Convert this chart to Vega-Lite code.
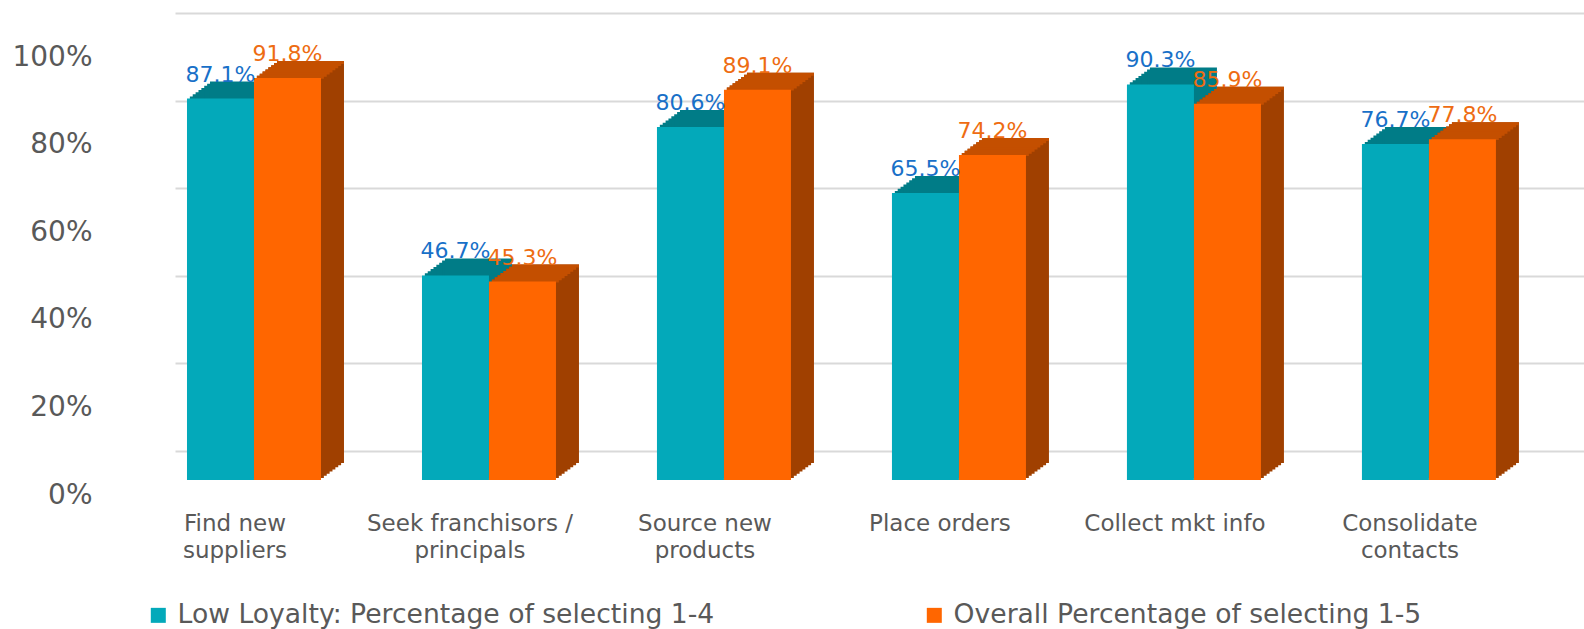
{
  "$schema": "https://vega.github.io/schema/vega-lite/v6.json",
  "width": 1409,
  "height": 438,
  "autosize": {"type": "none"},
  "padding": {"left": 175, "top": 13, "right": 0, "bottom": 178},
  "background": "white",
  "config": {"view": {"stroke": null}, "font": "DejaVu Sans"},
  "data": {
    "values": [
      {"category": "Find new suppliers", "series": "Low Loyalty: Percentage of selecting 1-4", "value": 0.871},
      {"category": "Find new suppliers", "series": "Overall Percentage of selecting 1-5", "value": 0.918},
      {"category": "Seek franchisors / principals", "series": "Low Loyalty: Percentage of selecting 1-4", "value": 0.467},
      {"category": "Seek franchisors / principals", "series": "Overall Percentage of selecting 1-5", "value": 0.453},
      {"category": "Source new products", "series": "Low Loyalty: Percentage of selecting 1-4", "value": 0.806},
      {"category": "Source new products", "series": "Overall Percentage of selecting 1-5", "value": 0.891},
      {"category": "Place orders", "series": "Low Loyalty: Percentage of selecting 1-4", "value": 0.655},
      {"category": "Place orders", "series": "Overall Percentage of selecting 1-5", "value": 0.742},
      {"category": "Collect mkt info", "series": "Low Loyalty: Percentage of selecting 1-4", "value": 0.903},
      {"category": "Collect mkt info", "series": "Overall Percentage of selecting 1-5", "value": 0.859},
      {"category": "Consolidate contacts", "series": "Low Loyalty: Percentage of selecting 1-4", "value": 0.767},
      {"category": "Consolidate contacts", "series": "Overall Percentage of selecting 1-5", "value": 0.778}
    ]
  },
  "encoding": {
    "x": {
      "field": "category", "type": "nominal", "sort": null,
      "scale": {"paddingInner": 0.43, "paddingOuter": 0.213, "align": 0.12},
      "axis": {
        "title": null, "domain": false, "ticks": false, "tickSize": 0, "grid": false,
        "labelAngle": 0, "labelPadding": 79, "labelOffset": -19, "labelFontSize": 23,
        "labelColor": "#595959", "labelLineHeight": 27.7, "labelBaseline": "alphabetic", "labelLimit": 400,
        "labelExpr": "datum.value == 'Find new suppliers' ? ['Find new','suppliers'] : datum.value == 'Seek franchisors / principals' ? ['Seek franchisors /','principals'] : datum.value == 'Source new products' ? ['Source new','products'] : datum.value == 'Consolidate contacts' ? ['Consolidate','contacts'] : datum.value"
      }
    },
    "y": {
      "field": "value", "type": "quantitative",
      "scale": {"domain": [0, 1], "nice": false},
      "axis": {
        "title": null, "values": [0, 0.2, 0.4, 0.6, 0.8, 1], "format": ".0%",
        "domain": false, "ticks": false, "tickSize": 0, "labelPadding": 83, "labelOffset": 44,
        "labelFontSize": 28, "labelColor": "#595959", "grid": true, "gridColor": "#D9D9D9", "gridWidth": 2,
        "labelOverlap": false, "labelFlush": false
      }
    }
  },
  "layer": [
    {"transform": [{"filter": {"field": "series", "equal": "Low Loyalty: Percentage of selecting 1-4"}}], "mark": {"type": "bar", "width": 67, "color": "#007C87", "xOffset": -30.625, "yOffset": 26.875, "y2Offset": 26.875}},
    {"transform": [{"filter": {"field": "series", "equal": "Low Loyalty: Percentage of selecting 1-4"}}], "mark": {"type": "bar", "width": 67, "color": "#007C87", "xOffset": -27.75, "yOffset": 24.75, "y2Offset": 24.75}},
    {"transform": [{"filter": {"field": "series", "equal": "Low Loyalty: Percentage of selecting 1-4"}}], "mark": {"type": "bar", "width": 67, "color": "#007C87", "xOffset": -24.875, "yOffset": 22.625, "y2Offset": 22.625}},
    {"transform": [{"filter": {"field": "series", "equal": "Low Loyalty: Percentage of selecting 1-4"}}], "mark": {"type": "bar", "width": 67, "color": "#007C87", "xOffset": -22, "yOffset": 20.5, "y2Offset": 20.5}},
    {"transform": [{"filter": {"field": "series", "equal": "Low Loyalty: Percentage of selecting 1-4"}}], "mark": {"type": "bar", "width": 67, "color": "#007C87", "xOffset": -19.125, "yOffset": 18.375, "y2Offset": 18.375}},
    {"transform": [{"filter": {"field": "series", "equal": "Low Loyalty: Percentage of selecting 1-4"}}], "mark": {"type": "bar", "width": 67, "color": "#007C87", "xOffset": -16.25, "yOffset": 16.25, "y2Offset": 16.25}},
    {"transform": [{"filter": {"field": "series", "equal": "Low Loyalty: Percentage of selecting 1-4"}}], "mark": {"type": "bar", "width": 67, "color": "#007C87", "xOffset": -13.375, "yOffset": 14.125, "y2Offset": 14.125}},
    {"transform": [{"filter": {"field": "series", "equal": "Low Loyalty: Percentage of selecting 1-4"}}], "mark": {"type": "bar", "width": 67, "color": "#007C87", "xOffset": -10.5, "yOffset": 12, "y2Offset": 12}},
    {
      "transform": [{"filter": {"field": "series", "equal": "Low Loyalty: Percentage of selecting 1-4"}}],
      "mark": {"type": "bar", "width": 67, "xOffset": -33.5, "yOffset": 29, "y2Offset": 29},
      "encoding": {
        "color": {
          "field": "series", "type": "nominal",
          "scale": {"domain": ["Low Loyalty: Percentage of selecting 1-4", "Overall Percentage of selecting 1-5"], "range": ["#03A9BA", "#FF6600"]},
          "legend": {"title": null, "orient": "none", "legendX": -30, "legendY": 589, "direction": "horizontal", "symbolType": "square", "symbolSize": 225, "symbolStrokeWidth": 0, "labelFontSize": 26.6, "labelColor": "#595959", "labelLimit": 800, "labelOffset": 6, "columnPadding": 206}
        }
      }
    },
    {"transform": [{"filter": {"field": "series", "equal": "Overall Percentage of selecting 1-5"}}], "mark": {"type": "bar", "width": 67, "color": "#A04000", "xOffset": 36.375, "yOffset": 26.875, "y2Offset": 26.875}},
    {"transform": [{"filter": {"field": "series", "equal": "Overall Percentage of selecting 1-5"}}], "mark": {"type": "bar", "width": 67, "color": "#A04000", "xOffset": 39.25, "yOffset": 24.75, "y2Offset": 24.75}},
    {"transform": [{"filter": {"field": "series", "equal": "Overall Percentage of selecting 1-5"}}], "mark": {"type": "bar", "width": 67, "color": "#A04000", "xOffset": 42.125, "yOffset": 22.625, "y2Offset": 22.625}},
    {"transform": [{"filter": {"field": "series", "equal": "Overall Percentage of selecting 1-5"}}], "mark": {"type": "bar", "width": 67, "color": "#A04000", "xOffset": 45, "yOffset": 20.5, "y2Offset": 20.5}},
    {"transform": [{"filter": {"field": "series", "equal": "Overall Percentage of selecting 1-5"}}], "mark": {"type": "bar", "width": 67, "color": "#A04000", "xOffset": 47.875, "yOffset": 18.375, "y2Offset": 18.375}},
    {"transform": [{"filter": {"field": "series", "equal": "Overall Percentage of selecting 1-5"}}], "mark": {"type": "bar", "width": 67, "color": "#A04000", "xOffset": 50.75, "yOffset": 16.25, "y2Offset": 16.25}},
    {"transform": [{"filter": {"field": "series", "equal": "Overall Percentage of selecting 1-5"}}], "mark": {"type": "bar", "width": 67, "color": "#A04000", "xOffset": 53.625, "yOffset": 14.125, "y2Offset": 14.125}},
    {"transform": [{"filter": {"field": "series", "equal": "Overall Percentage of selecting 1-5"}}], "mark": {"type": "bar", "width": 67, "color": "#A04000", "xOffset": 56.5, "yOffset": 12, "y2Offset": 12}},
    {"transform": [{"filter": {"field": "series", "equal": "Overall Percentage of selecting 1-5"}}], "mark": {"type": "tick", "size": 67, "thickness": 3, "color": "#C44F00", "opacity": 1, "xOffset": 36.375, "yOffset": 28.375}},
    {"transform": [{"filter": {"field": "series", "equal": "Overall Percentage of selecting 1-5"}}], "mark": {"type": "tick", "size": 67, "thickness": 3, "color": "#C44F00", "opacity": 1, "xOffset": 39.25, "yOffset": 26.25}},
    {"transform": [{"filter": {"field": "series", "equal": "Overall Percentage of selecting 1-5"}}], "mark": {"type": "tick", "size": 67, "thickness": 3, "color": "#C44F00", "opacity": 1, "xOffset": 42.125, "yOffset": 24.125}},
    {"transform": [{"filter": {"field": "series", "equal": "Overall Percentage of selecting 1-5"}}], "mark": {"type": "tick", "size": 67, "thickness": 3, "color": "#C44F00", "opacity": 1, "xOffset": 45, "yOffset": 22}},
    {"transform": [{"filter": {"field": "series", "equal": "Overall Percentage of selecting 1-5"}}], "mark": {"type": "tick", "size": 67, "thickness": 3, "color": "#C44F00", "opacity": 1, "xOffset": 47.875, "yOffset": 19.875}},
    {"transform": [{"filter": {"field": "series", "equal": "Overall Percentage of selecting 1-5"}}], "mark": {"type": "tick", "size": 67, "thickness": 3, "color": "#C44F00", "opacity": 1, "xOffset": 50.75, "yOffset": 17.75}},
    {"transform": [{"filter": {"field": "series", "equal": "Overall Percentage of selecting 1-5"}}], "mark": {"type": "tick", "size": 67, "thickness": 3, "color": "#C44F00", "opacity": 1, "xOffset": 53.625, "yOffset": 15.625}},
    {"transform": [{"filter": {"field": "series", "equal": "Overall Percentage of selecting 1-5"}}], "mark": {"type": "tick", "size": 67, "thickness": 3, "color": "#C44F00", "opacity": 1, "xOffset": 56.5, "yOffset": 13.5}},
    {
      "transform": [{"filter": {"field": "series", "equal": "Overall Percentage of selecting 1-5"}}],
      "mark": {"type": "bar", "width": 67, "xOffset": 33.5, "yOffset": 29, "y2Offset": 29},
      "encoding": {"color": {"field": "series", "type": "nominal"}}
    },
    {
      "transform": [{"filter": {"field": "series", "equal": "Low Loyalty: Percentage of selecting 1-4"}}],
      "mark": {"type": "text", "dx": -33.5, "dy": 12, "baseline": "alphabetic", "align": "center", "fontSize": 22, "color": "#1870C8"},
      "encoding": {"text": {"field": "value", "type": "quantitative", "format": ".1%"}}
    },
    {
      "transform": [{"filter": {"field": "series", "equal": "Overall Percentage of selecting 1-5"}}],
      "mark": {"type": "text", "dx": 33.5, "dy": 12, "baseline": "alphabetic", "align": "center", "fontSize": 22, "color": "#EE6C12"},
      "encoding": {"text": {"field": "value", "type": "quantitative", "format": ".1%"}}
    }
  ]
}
